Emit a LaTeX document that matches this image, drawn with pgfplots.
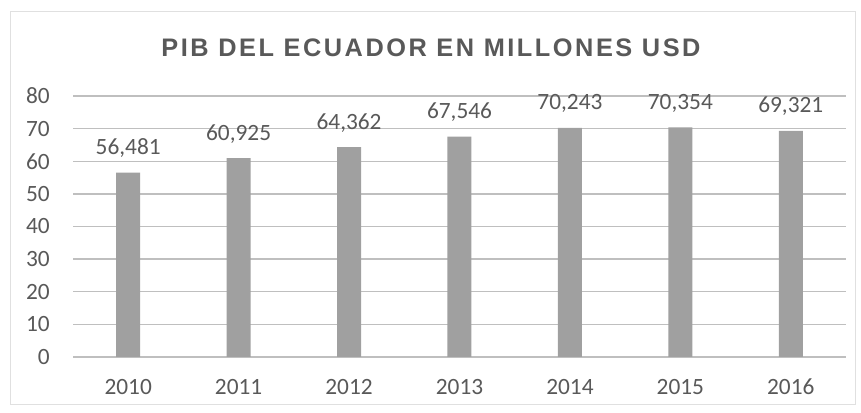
\documentclass[border=0pt]{standalone}
\usepackage{fontspec}
\setmainfont{Carlito}
\newfontfamily\titlefont[LetterSpace=10]{Liberation Sans}
\usepackage{pgfplots}
\pgfplotsset{compat=1.18}
\definecolor{txt}{HTML}{595959}
\definecolor{grid}{HTML}{CCCCCC}
\definecolor{barc}{HTML}{A0A0A0}
\definecolor{frame}{HTML}{E0E0E0}
\begin{document}
\begin{tikzpicture}
\path[fill=white] (0,0) rectangle (645.75pt,309.75pt);
\draw[frame, line width=0.75pt] (7.5pt,6pt) rectangle (641.25pt,300.75pt);
\node[anchor=base, text=txt, inner sep=0pt] at (323.25pt,267pt)
  {\titlefont\fontsize{19}{22}\selectfont\bfseries PIB DEL ECUADOR EN MILLONES USD};
\begin{axis}[
  at={(54.75pt,42pt)}, anchor=south west,
  scale only axis, width=579.75pt, height=195.75pt,
  xmin=-0.5, xmax=6.5, ymin=0, ymax=80,
  xtick={0,...,6},
  xticklabels={2010,2011,2012,2013,2014,2015,2016},
  ytick={0,10,...,80},
  xmajorgrids=false,
  ymajorgrids, major grid style={grid, line width=1.1pt},
  axis line style={draw=none},
  major tick length=0pt,
  tick style={draw=none},
  tick label style={text=txt, font=\fontsize{17.5}{19}\selectfont, inner sep=0pt},
  xticklabel style={anchor=base, yshift=-28.5pt},
  yticklabel style={anchor=east, xshift=-17.25pt},
  /pgf/number format/assume math mode=true,
  clip=false,
]
\addplot[ybar, bar width=18pt, fill=barc, draw=none,
  nodes near coords,
  nodes near coords style={anchor=base, yshift=13.5pt, text=txt, inner sep=0pt,
    font=\fontsize{17.5}{19}\selectfont,
    /pgf/number format/.cd, fixed, fixed zerofill, precision=3, use comma, 1000 sep={}, assume math mode=true},
] coordinates {(0,56.481) (1,60.925) (2,64.362) (3,67.546) (4,70.243) (5,70.354) (6,69.321)};
\end{axis}
\end{tikzpicture}
\end{document}
